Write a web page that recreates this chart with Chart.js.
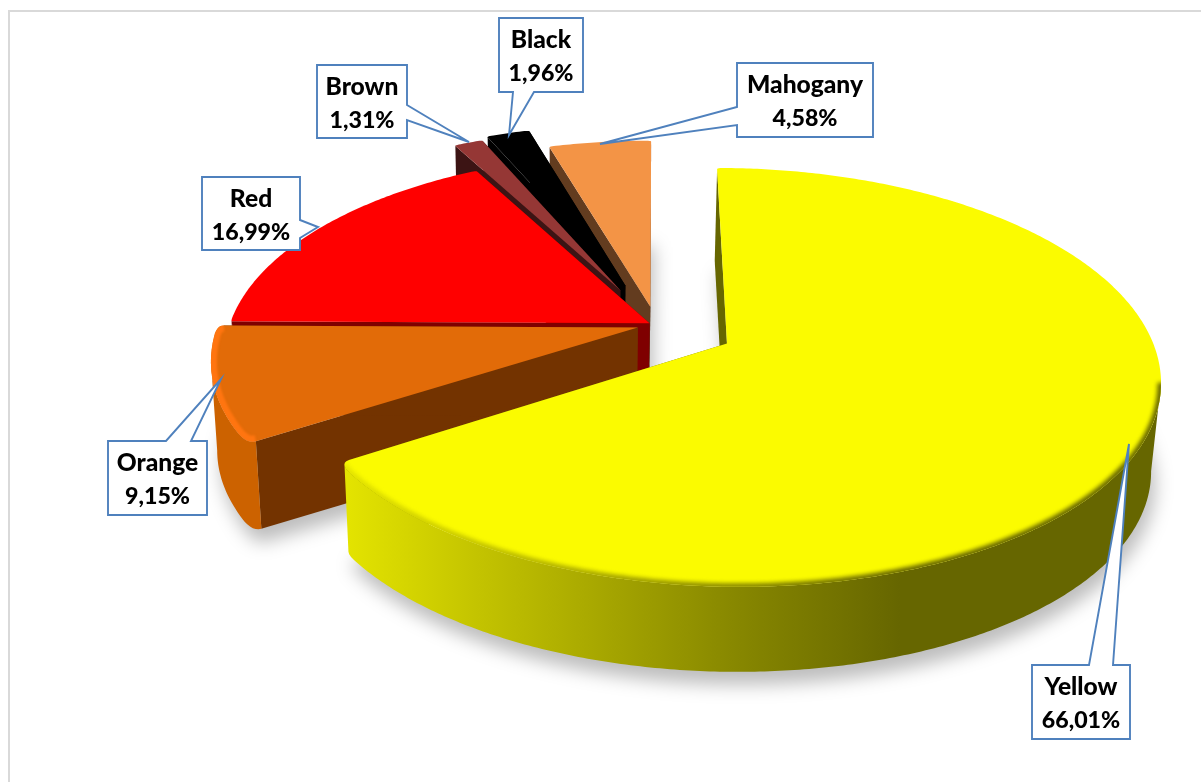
<!DOCTYPE html>
<html>
<head>
<meta charset="utf-8">
<title>Colour share</title>
<style>
  html, body { margin: 0; padding: 0; background: #fff; }
  canvas { display: block; }
</style>
<script src="https://cdn.jsdelivr.net/npm/chart.js@4/dist/chart.umd.min.js"></script>
</head>
<body>
<canvas id="myChart" width="1201" height="782"></canvas>
<script>
// slice data, clockwise from twelve o'clock
const categories = ["Yellow", "Orange", "Red", "Brown", "Black", "Mahogany"];
const shares = [66.01, 9.15, 16.99, 1.31, 1.96, 4.58];

const topColors = ["#fbfb00", "#e26b08", "#ff0000", "#953735", "#000000", "#f39446"];
const rimColors = ["#666600", "#cc6200", "#7f0000", "#3c1414", "#000000", "#633c1f"];
const faceColors = ["#666600", "#733300", "#7f0000", "#3c1414", "#000000", "#633c1f"];
const explode = [0.19, 0.045, 0.018, 0.2, 0.22, 0.095];
// rounding of each slice's two outer corners: start, end
const cornerRadius = [[1, 10], [9, 6], [1, 1], [1, 1], [1, 1], [1, 1]];

// far slices get painted first
const paintOrder = [5, 4, 3, 2, 1, 0];

// label callouts: box, pointer base on one side, pointer tip
const callouts = [
    { box: [1032, 665, 98, 74], base: [1089, 665, 1113, 665], tip: [1129, 444] },
    { box: [108, 441, 99, 74], base: [166, 441, 191, 441], tip: [221, 379] },
    { box: [202, 177, 98, 73], base: [300, 220, 300, 238], tip: [318, 227] },
    { box: [317, 65, 90, 73], base: [407, 105, 407, 120], tip: [469, 142] },
    { box: [499, 18, 84, 74], base: [534, 92, 513, 92], tip: [509, 135] },
    { box: [737, 63, 136, 74], base: [737, 107, 737, 125], tip: [600, 144] }
];

const RADIUS = 300;

// perspective of the pie's top plane, in units of one radius
const view = { cx: 656, cy: 325, rx: 420, ry: 198, tilt: 0.16 };
// the bottom plane shrinks toward this point
const drop = { x: 578, y: 5585, k: 0.983 };

function project(u, v) {
    const s = 1 / (1 - view.tilt * v);
    return { x: view.cx + view.rx * u * s, y: view.cy + view.ry * v * s };
}

function dropped(p) {
    return {
        x: drop.x + drop.k * (p.x - drop.x),
        y: drop.y + drop.k * (p.y - drop.y)
    };
}

// outline of one arc element, projected
function sliceOutline(el) {
    const R = el.outerRadius;
    const mid = (el.startAngle + el.endAngle) / 2;
    const ox = Math.cos(mid) * el.options.offset / R;
    const oy = Math.sin(mid) * el.options.offset / R;
    const steps = Math.max(4, Math.ceil((el.endAngle - el.startAngle) / 0.01));
    const arc = [];
    for (let i = 0; i <= steps; i++) {
        const a = el.startAngle + (el.endAngle - el.startAngle) * i / steps;
        arc.push(project(ox + Math.cos(a), oy + Math.sin(a)));
    }
    return { apex: project(ox, oy), arc };
}

// soften the two arc ends by replacing them with a short curve
function roundEnds(outline, radii) {
    const arc = outline.arc;
    const apex = outline.apex;
    const walk = (pts, r) => {
        let i = 1, d = 0;
        while (i < pts.length - 1 && d < r) {
            d += Math.hypot(pts[i].x - pts[i - 1].x, pts[i].y - pts[i - 1].y);
            i++;
        }
        return i;
    };
    const corner = (a, c, b, r) => {
        const out = [];
        const la = Math.hypot(a.x - c.x, a.y - c.y);
        const t = Math.min(1, r / la);
        const from = { x: c.x + (a.x - c.x) * t, y: c.y + (a.y - c.y) * t };
        for (let i = 0; i <= 6; i++) {
            const s = i / 6;
            out.push({
                x: (1 - s) * (1 - s) * from.x + 2 * s * (1 - s) * c.x + s * s * b.x,
                y: (1 - s) * (1 - s) * from.y + 2 * s * (1 - s) * c.y + s * s * b.y
            });
        }
        return out;
    };
    const i0 = walk(arc, radii[0]);
    const i1 = arc.length - 1 - walk(arc.slice().reverse(), radii[1]);
    const head = corner(apex, arc[0], arc[i0], radii[0]);
    const tail = corner(apex, arc[arc.length - 1], arc[i1], radii[1]).reverse();
    return { apex, rim: head.concat(arc.slice(i0 + 1, i1), tail) };
}

function tracePoly(ctx, pts) {
    ctx.beginPath();
    pts.forEach((p, i) => i ? ctx.lineTo(p.x, p.y) : ctx.moveTo(p.x, p.y));
    ctx.closePath();
}

function rimFill(ctx, index) {
    if (index !== 0) return rimColors[index];
    // the long yellow wall darkens from left to right
    const g = ctx.createLinearGradient(345, 0, 900, 0);
    g.addColorStop(0, "#e4e400");
    g.addColorStop(0.25, "#c2c200");
    g.addColorStop(0.45, "#a8a800");
    g.addColorStop(0.68, "#8a8a00");
    g.addColorStop(1, rimColors[0]);
    return g;
}

// the stretch of rim that faces the viewer runs right to left on screen
function frontRim(s) {
    let from = -1, to = -1;
    for (let i = 0; i < s.rim.length - 1; i++) {
        if (s.rim[i + 1].x < s.rim[i].x) {
            if (from < 0) from = i;
            to = i + 1;
        }
    }
    return from < 0 ? [] : s.rim.slice(from, to + 1);
}

function drawWalls(ctx, s, index) {
    const first = s.rim[0], last = s.rim[s.rim.length - 1];
    [first, last].forEach(end => {
        tracePoly(ctx, [s.apex, end, dropped(end), dropped(s.apex)]);
        ctx.fillStyle = faceColors[index];
        ctx.fill();
    });
    const front = frontRim(s);
    if (front.length > 1) {
        tracePoly(ctx, front.concat(front.map(dropped).reverse()));
        ctx.fillStyle = rimFill(ctx, index);
        ctx.fill();
    }
}

// soft lit edge along the outer rim of the two front slices
function drawBevel(ctx, s, index) {
    if (index > 1) return;
    const edge = index === 0 ? frontRim(s) : s.rim;
    ctx.save();
    tracePoly(ctx, [s.apex].concat(s.rim));
    ctx.clip();
    ctx.filter = index === 0 ? "blur(2px)" : "blur(1px)";
    ctx.lineWidth = index === 0 ? 7 : 12;
    ctx.lineJoin = "round";
    ctx.strokeStyle = index === 0 ? rimFill(ctx, 0) : "#ff7510";
    ctx.beginPath();
    edge.forEach((p, i) => i ? ctx.lineTo(p.x, p.y) : ctx.moveTo(p.x, p.y));
    ctx.stroke();
    ctx.restore();
}

const pie3d = {
    id: "pie3d",
    beforeDatasetsDraw(chart) {
        const ctx = chart.ctx;
        const arcs = chart.getDatasetMeta(0).data;
        const slices = arcs.map((el, i) => roundEnds(sliceOutline(el), cornerRadius[i]));

        // soft shadow on the ground
        ctx.save();
        ctx.filter = "blur(9px)";
        ctx.fillStyle = "rgba(0,0,0,0.26)";
        ctx.translate(4, 13);
        slices.forEach(s => {
            tracePoly(ctx, [s.apex].concat(s.rim).map(dropped));
            ctx.fill();
        });
        ctx.restore();

        paintOrder.forEach(i => {
            drawWalls(ctx, slices[i], i);
            tracePoly(ctx, [slices[i].apex].concat(slices[i].rim));
            ctx.fillStyle = arcs[i].options.backgroundColor;
            ctx.fill();
            drawBevel(ctx, slices[i], i);
        });
        return false; // walls and tops replace the flat arcs
    }
};

const frameAndCallouts = {
    id: "frameAndCallouts",
    beforeDraw(chart) {
        const ctx = chart.ctx;
        ctx.save();
        ctx.fillStyle = "#fff";
        ctx.fillRect(0, 0, chart.width, chart.height);
        ctx.strokeStyle = "#d9d9d9";
        ctx.lineWidth = 2;
        ctx.beginPath();
        ctx.moveTo(9, chart.height);
        ctx.lineTo(9, 11);
        ctx.lineTo(chart.width, 11);
        ctx.stroke();
        ctx.restore();
    },
    afterDraw(chart) {
        const ctx = chart.ctx;
        ctx.save();
        callouts.forEach((c, i) => {
            const [x, y, w, h] = c.box;
            const [bx0, by0, bx1, by1] = c.base;
            // walk the box clockwise and break it for the pointer
            const corners = [[x, y], [x + w, y], [x + w, y + h], [x, y + h]];
            let side;
            if (by0 === y && by1 === y) side = 0;
            else if (bx0 === x + w && bx1 === x + w) side = 1;
            else if (by0 === y + h && by1 === y + h) side = 2;
            else side = 3;
            ctx.beginPath();
            corners.forEach((p, k) => {
                k ? ctx.lineTo(p[0], p[1]) : ctx.moveTo(p[0], p[1]);
                if (k === side) {
                    const first = side === 3 ? [bx1, by1] : [bx0, by0];
                    const second = side === 3 ? [bx0, by0] : [bx1, by1];
                    ctx.lineTo(first[0], first[1]);
                    ctx.lineTo(c.tip[0], c.tip[1]);
                    ctx.lineTo(second[0], second[1]);
                }
            });
            ctx.closePath();
            ctx.fillStyle = "#fff";
            ctx.fill();
            ctx.strokeStyle = "#4f81bd";
            ctx.lineWidth = 1.9;
            ctx.lineJoin = "miter";
            ctx.stroke();

            ctx.fillStyle = "#000";
            ctx.textAlign = "center";
            ctx.textBaseline = "alphabetic";
            const tx = x + w / 2;
            ctx.font = "900 24.6px Lato";
            ctx.fillText(categories[i], tx, y + 30);
            ctx.font = "900 23.2px Lato";
            ctx.fillText(shares[i].toFixed(2).replace(".", ",") + "%", tx, y + 63);
        });
        ctx.restore();
    }
};

new Chart(document.getElementById("myChart").getContext("2d"), {
    type: "pie",
    data: {
        labels: categories,
        datasets: [{
            data: shares,
            backgroundColor: topColors,
            borderWidth: 0,
            radius: RADIUS,
            offset: explode.map(e => e * RADIUS)
        }]
    },
    options: {
        responsive: false,
        animation: false,
        plugins: { legend: { display: false }, tooltip: { enabled: false } }
    },
    plugins: [frameAndCallouts, pie3d]
});
</script>
</body>
</html>
